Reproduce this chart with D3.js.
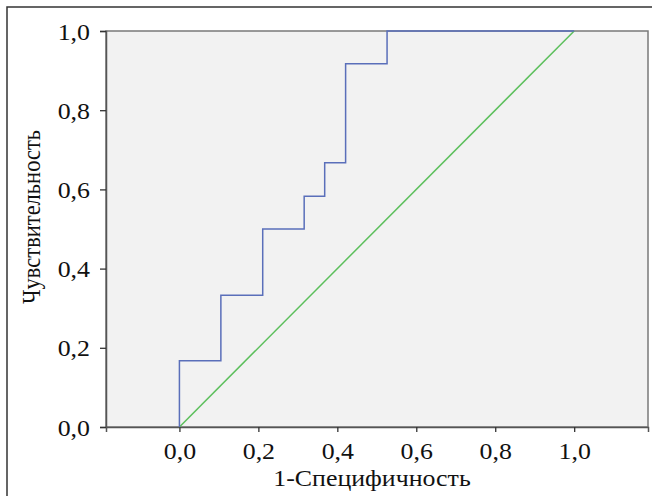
<!DOCTYPE html>
<html><head><meta charset="utf-8">
<script src="https://cdn.jsdelivr.net/npm/d3@7"></script>
<style>body{margin:0;background:#fff}svg{display:block}</style>
</head><body><svg id="c" width="652" height="496"></svg>
<script>
const fpr = [0, 0.105, 0.211, 0.316, 0.368, 0.421, 0.526, 1.0];
const tpr = [0, 0.167, 0.333, 0.5, 0.583, 0.667, 0.917, 1.0];
const diag = [[0,0],[1,1]];
const xTicks = [0,0.2,0.4,0.6,0.8,1.0];
const yTicks = [0,0.2,0.4,0.6,0.8,1.0];
const xTitle = "1-Специфичность";
const yTitle = "Чувствительность";

const svg = d3.select("#c");
const L=106, T=31, R=648, B=427;
const S=1.15, FS=22.5;
const x = d3.scaleLinear().domain([-0.186, 1.187]).range([L, R]);
const y = d3.scaleLinear().domain([0, 1]).range([B, T]);
const fmt = d => d3.format(".1f")(d).replace(".", ",");
const font = "'Liberation Serif','Times New Roman',serif";

svg.append("rect").attr("x",7).attr("y",7).attr("width",700).attr("height",600)
  .attr("fill","none").attr("stroke","#333").attr("stroke-width",1.5);
svg.append("rect").attr("x",L).attr("y",T).attr("width",R-L).attr("height",B-T)
  .attr("fill","#f2f2f2").attr("stroke","#7a7a7a").attr("stroke-width",1.5);

const gx = svg.append("g").attr("transform",`translate(0,${B})`)
  .call(d3.axisBottom(x).tickValues(xTicks).tickFormat(fmt).tickSizeOuter(0).tickSize(5).tickPadding(0));
const gy = svg.append("g").attr("transform",`translate(${L},0)`)
  .call(d3.axisLeft(y).tickValues(yTicks).tickFormat(fmt).tickSizeOuter(0).tickSize(6).tickPadding(0));
[gx,gy].forEach(g=>{
  g.attr("font-family",null).attr("font-size",null);
  g.select(".domain").attr("stroke","#555").attr("stroke-width",1.5);
  g.selectAll(".tick line").attr("stroke","#333").attr("stroke-width",1.3);
  g.selectAll(".tick text").style("font-family",font).style("font-size",FS+"px").attr("fill","#111");
});
gx.selectAll(".tick text").attr("y",null).attr("dy",null)
  .attr("transform",`translate(0,32) scale(${S},1)`);
gy.selectAll(".tick text").attr("x",null).attr("dy",null)
  .attr("transform",`translate(-16,8) scale(${S},1)`);

svg.append("path").datum(diag).attr("fill","none").attr("stroke","#5cbf5c").attr("stroke-width",1.5)
  .attr("d", d3.line().x(d=>x(d[0])).y(d=>y(d[1])));
svg.append("path").datum(fpr.map((f,i)=>[f,tpr[i]])).attr("fill","none")
  .attr("stroke","#5a6fba").attr("stroke-width",1.5)
  .attr("d", d3.line().curve(d3.curveStepBefore).x(d=>x(d[0])).y(d=>y(d[1])));

svg.append("text").attr("transform",`translate(372,486) scale(${S},1)`).attr("text-anchor","middle")
  .style("font-family",font).style("font-size",FS+"px").attr("fill","#111").text(xTitle);
svg.append("text").attr("transform",`translate(40,217) scale(${S},1) rotate(-90)`).attr("text-anchor","middle")
  .style("font-family",font).style("font-size",FS+"px").attr("fill","#111").text(yTitle);
</script></body></html>
